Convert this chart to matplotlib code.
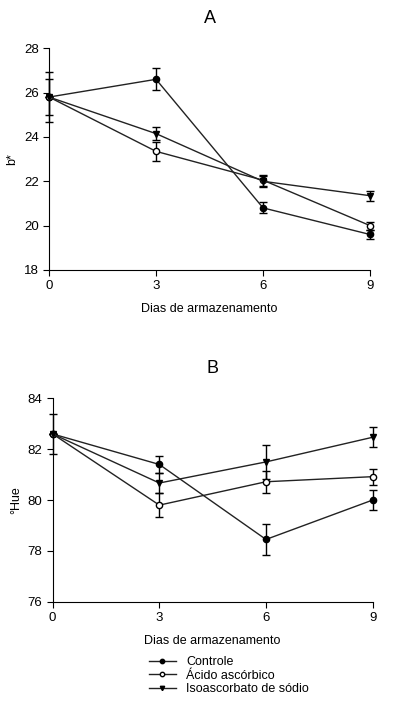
import matplotlib.pyplot as plt
import numpy as np

plt.rcParams["font.family"] = ["Liberation Sans", "DejaVu Sans"]

days = [0, 3, 6, 9]
labels = ["Controle", "Ácido ascórbico", "Isoascorbato de sódio"]

# panel A: b*
b_controle = [25.8, 26.6, 20.8, 19.6]
b_controle_err = [0.8, 0.5, 0.25, 0.2]
b_acido = [25.8, 23.35, 22.05, 20.0]
b_acido_err = [1.13, 0.42, 0.25, 0.18]
b_iso = [25.8, 24.15, 22.0, 21.35]
b_iso_err = [0.0, 0.3, 0.25, 0.22]

# panel B: Hue
h_controle = [82.6, 81.4, 78.45, 80.0]
h_controle_err = [0.8, 0.33, 0.6, 0.4]
h_acido = [82.6, 79.8, 80.72, 80.92]
h_acido_err = [0.0, 0.48, 0.44, 0.31]
h_iso = [82.6, 80.67, 81.5, 82.47]
h_iso_err = [0.0, 0.38, 0.68, 0.4]

line_col = "#222222"
styles = [
    dict(marker="o", mfc="black", mec="black"),
    dict(marker="o", mfc="white", mec="black"),
    dict(marker="v", mfc="black", mec="black"),
]


def draw(ax, series, errs):
    handles = []
    for vals, err, st in zip(series, errs, styles):
        h = ax.errorbar(days, vals, yerr=err, color=line_col, lw=1.0,
                        ms=4.5, capsize=3, elinewidth=1.0, ecolor="black",
                        clip_on=False, **st)
        handles.append(h[0])
    ax.spines["top"].set_visible(False)
    ax.spines["right"].set_visible(False)
    ax.set_xlim(0, 9)
    ax.set_xticks(days)
    ax.tick_params(direction="out", length=4, labelsize=9.5, width=0.8)
    ax.set_xlabel("Dias de armazenamento", fontsize=9, labelpad=8)
    return handles


fig = plt.figure(figsize=(4.02, 7.11), dpi=100)

axA = fig.add_axes([0.122, 0.6203, 0.7985, 0.3118])
handles = draw(axA, [b_controle, b_acido, b_iso],
               [b_controle_err, b_acido_err, b_iso_err])
axA.set_ylim(18, 28)
axA.set_yticks(np.arange(18, 29, 2))
axA.set_ylabel("b*", fontsize=9, labelpad=4)
axA.set_title("A", fontsize=13, pad=18)

axB = fig.add_axes([0.131, 0.1537, 0.796, 0.286])
draw(axB, [h_controle, h_acido, h_iso],
     [h_controle_err, h_acido_err, h_iso_err])
axB.set_ylim(76, 84)
axB.set_yticks(np.arange(76, 85, 2))
axB.set_ylabel("°Hue", fontsize=9, labelpad=4)
axB.set_title("B", fontsize=13, pad=18)

fig.legend(handles, labels, loc="upper left", bbox_to_anchor=(0.37, 0.077),
           frameon=False, fontsize=9, handlelength=2.2, handletextpad=0.8,
           labelspacing=0.12, borderpad=0, borderaxespad=0, markerscale=0.7)

fig.savefig("out.png", dpi=100)
